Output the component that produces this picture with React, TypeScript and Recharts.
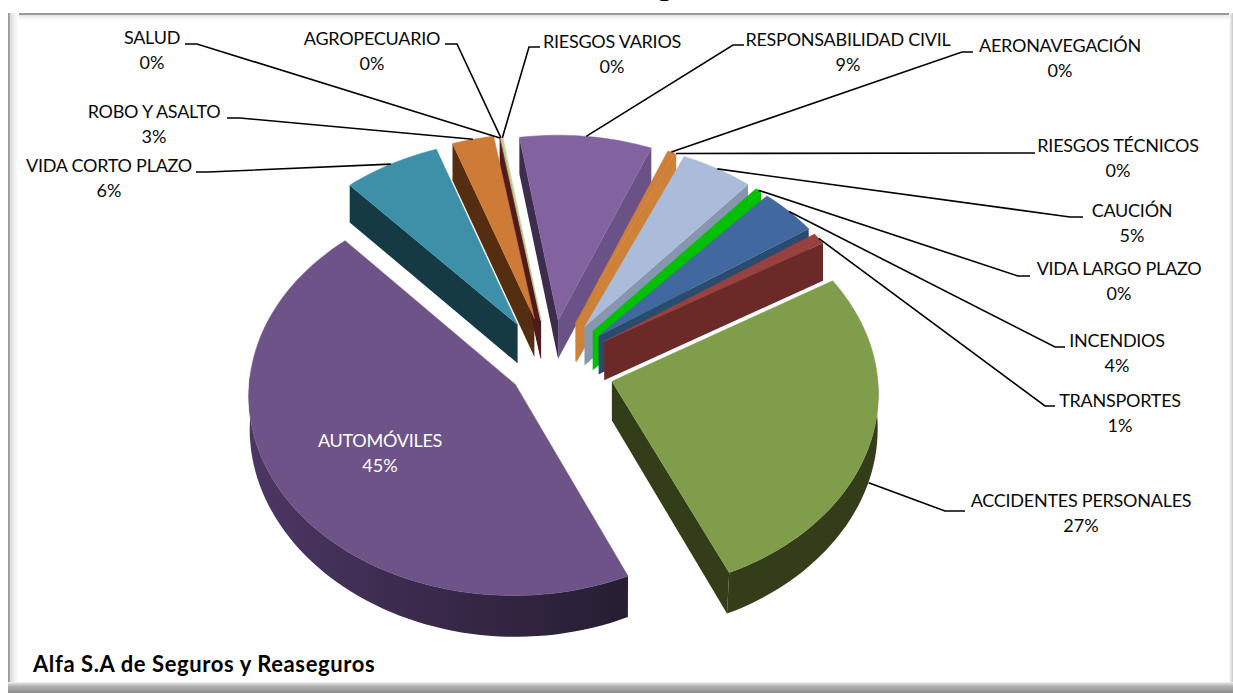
import React from 'react';
import { PieChart, Pie } from 'recharts';

const categories = [
  'ACCIDENTES PERSONALES', 'AUTOMÓVILES', 'VIDA CORTO PLAZO', 'ROBO Y ASALTO', 'SALUD', 'AGROPECUARIO',
  'RIESGOS VARIOS', 'RESPONSABILIDAD CIVIL', 'AERONAVEGACIÓN', 'RIESGOS TÉCNICOS', 'CAUCIÓN',
  'VIDA LARGO PLAZO', 'INCENDIOS', 'TRANSPORTES',
];
const shares = [26.9, 45.1, 6.3, 2.7, 0.05, 0.05, 0.1, 8.55, 0.49, 0.02, 4.7, 0.4, 3.8, 0.9];
const faceColors = ['#7f9d4a', '#6e5389', '#3e90a8', '#ce7b37', '#953735', '#c3d69b', '#c3d69b', '#8263a0', '#ce7f3a', '#ce7f3a', '#abbbda', '#00c000', '#41699f', '#984240'];
const startWallColors = ['#333d19', '#3a2a4a', '#163a44', '#552e11', '#4e1c1c', '#4e1c1c', '#4e1c1c', '#3c2c4e', '#ce8238', '#ce8238', '#8796af', '#00b000', '#2b4a70', '#6b2a28'];
const endWallColors = ['#333d19', '#3a2a4a', '#163a44', '#552e11', '#4e1c1c', '#4e1c1c', '#4e1c1c', '#6a5186', '#ce8238', '#ce8238', '#8796af', '#00c000', '#2b4a70', '#6b2a28'];
const outerWallColors = ['#333d19', 'url(#purpleWall)', '#163a44', '#552e11', '#4e1c1c', '#4e1c1c', '#4e1c1c', '#3c2c4e', '#ce8238', '#ce8238', '#8796af', '#00b000', '#2b4a70', '#6b2a28'];
const explodeByCategory = [0.24, 0.16, 0.25, 0.255, 0.24, 0.24, 0.24, 0.24, 0.24, 0.24, 0.24, 0.24, 0.24, 0.24];

// where each label goes: text centre, first line y, elbow of the leader
const labelLayout = [
  { x: 1081, y: 500, ex: 965, ex2: 945, ey: 511, dy: 40 },
  { x: 380, y: 440 },
  { x: 109, y: 165, ex: 196, ex2: 208, ey: 172, dy: 0 },
  { x: 154, y: 111, ex: 227, ex2: 240, ey: 118, dy: 0 },
  { x: 152, y: 37, ex: 185, ex2: 197, ey: 44, dy: 0 },
  { x: 372, y: 38, ex: 445, ex2: 457, ey: 44, dy: 0 },
  { x: 612, y: 41, ex: 540, ex2: 529, ey: 47, dy: 0 },
  { x: 848, y: 39, ex: 744, ex2: 733, ey: 45, dy: 0 },
  { x: 1060, y: 45, ex: 973, ex2: 962, ey: 52, dy: 0 },
  { x: 1118, y: 145, ex: 1035, ex2: 1020, ey: 153, dy: 0 },
  { x: 1132, y: 210, ex: 1083, ex2: 1070, ey: 217, dy: 0 },
  { x: 1119, y: 268, ex: 1030, ex2: 1018, ey: 276, dy: 0 },
  { x: 1117, y: 340, ex: 1065, ex2: 1055, ey: 347, dy: 0 },
  { x: 1120, y: 400, ex: 1055, ex2: 1045, ey: 406, dy: 0 },
];

const pieData = categories.map((name, i) => ({ name, value: shares[i] }));
const total = shares.reduce((a, b) => a + b, 0);

const TILT = 0.75;
const PERSPECTIVE = 0.05;
const DEPTH = 39;
const CONVERGE_X = 620;
const rad = (d: number) => (d * Math.PI) / 180;

// disc point at clockwise angle theta -> screen, with slice pulled out along its mid angle
function project(p: any, index: number, theta: number, r: number, drop = 0) {
  const mid = 90 - (p.startAngle + p.endAngle) / 2;
  const e = explodeByCategory[index];
  const u = r * Math.sin(rad(theta)) + e * Math.sin(rad(mid));
  const v = -r * Math.cos(rad(theta)) - e * Math.cos(rad(mid));
  const s = 1 / (1 - PERSPECTIVE * v);
  const x = p.cx + p.outerRadius * u * s;
  // the lower rim leans in a little toward the viewer's side
  const lean = drop > 0 ? (x - CONVERGE_X) * 0.02 * Math.max(0, v) : 0;
  return {
    x: x - lean,
    y: p.cy + p.outerRadius * TILT * v * s + drop * s,
  };
}

const toPath = (pts: { x: number; y: number }[]) =>
  'M' + pts.map((q) => `${q.x.toFixed(1)},${q.y.toFixed(1)}`).join('L') + 'Z';

function arcThetas(a0: number, a1: number) {
  const out: number[] = [];
  const n = Math.max(2, Math.ceil((a1 - a0) / 2));
  for (let i = 0; i <= n; i++) out.push(a0 + ((a1 - a0) * i) / n);
  return out;
}

function FaceShape(p: any) {
  const a0 = 90 - p.startAngle;
  const a1 = 90 - p.endAngle;
  const pts = [project(p, p.index, a0, 0), ...arcThetas(a0, a1).map((t) => project(p, p.index, t, 1))];
  return <path d={toPath(pts)} fill={faceColors[p.index]} stroke={faceColors[p.index]} strokeWidth={0.5} />;
}

function WallShape(p: any) {
  const i = p.index;
  const a0 = 90 - p.startAngle;
  const a1 = 90 - p.endAngle;
  const walls = [];
  if (Math.sin(rad(a0)) < 0) {
    const q = [project(p, i, a0, 0), project(p, i, a0, 1), project(p, i, a0, 1, DEPTH), project(p, i, a0, 0, DEPTH)];
    walls.push(<path key="s" d={toPath(q)} fill={startWallColors[i]} />);
  }
  if (Math.sin(rad(a1)) > 0) {
    const q = [project(p, i, a1, 0), project(p, i, a1, 1), project(p, i, a1, 1, DEPTH), project(p, i, a1, 0, DEPTH)];
    walls.push(<path key="e" d={toPath(q)} fill={endWallColors[i]} />);
  }
  const front = arcThetas(a0, a1).filter((t) => Math.cos(rad(t)) < 0.05);
  if (front.length > 1) {
    const top = front.map((t) => project(p, i, t, 1));
    const bottom = front.map((t) => project(p, i, t, 1, DEPTH)).reverse();
    walls.push(<path key="o" d={toPath([...top, ...bottom])} fill={outerWallColors[i]} />);
  }
  return <g>{walls}</g>;
}

const FONT = 'Lato, sans-serif';

function renderLabel(p: any) {
  const i = p.index;
  const l: any = labelLayout[i];
  const pct = `${Math.round((shares[i] / total) * 100)}%`;
  const isInside = l.ex === undefined;
  const mid = 90 - (p.startAngle + p.endAngle) / 2;
  const start = isInside ? null : project(p, i, mid, 1, l.dy);
  const color = isInside ? '#ffffff' : '#0a0a0a';
  return (
    <g key={i}>
      {start && (
        <polyline
          points={`${start.x},${start.y} ${l.ex2},${l.ey} ${l.ex},${l.ey}`}
          fill="none"
          stroke="#000000"
          strokeWidth={1.6}
        />
      )}
      <text x={l.x} y={l.y} textAnchor="middle" dominantBaseline="central" fontFamily={FONT} fontSize={18} letterSpacing={-0.25} fill={color}>
        {categories[i]}
      </text>
      <text x={l.x} y={l.y + 24.5} textAnchor="middle" dominantBaseline="central" fontFamily={FONT} fontSize={18} fill={color}>
        {pct}
      </text>
    </g>
  );
}

export default function App() {
  return (
    <div style={{ position: 'absolute', left: 0, top: 0, width: 1233, height: 693, background: '#fff', overflow: 'hidden' }}>
      {/* title is cut off by the top of the picture in the source, only the descender shows */}
      <div style={{ position: 'absolute', left: 660, top: -32, fontFamily: '"Liberation Serif", serif', fontWeight: 700, fontSize: 30, lineHeight: '34px', color: '#000' }}>p</div>
      {/* bevelled frame */}
      <div style={{ position: 'absolute', left: 8, top: 13, width: 1225, height: 2, background: '#9a9a9a' }} />
      <div style={{ position: 'absolute', left: 8, top: 15, width: 1225, height: 5, background: 'linear-gradient(to bottom,#e4e4e4,#ffffff)' }} />
      <div style={{ position: 'absolute', left: 8, top: 13, width: 11, height: 680, background: 'linear-gradient(to right,#9a9a9a 0,#9a9a9a 12%,#dcdcdc 20%,#f6f6f6 70%,#ffffff 100%)' }} />
      <div style={{ position: 'absolute', left: 1229, top: 13, width: 4, height: 680, background: 'linear-gradient(to right,#ffffff,#c8c8c8)' }} />
      <div style={{ position: 'absolute', left: 8, top: 682, width: 1225, height: 11, background: 'linear-gradient(to bottom,#f2f2f2,#b5b5b5 35%,#8a8a8a 100%)' }} />
      <div style={{ position: 'absolute', left: 33, top: 651, fontFamily: FONT, fontWeight: 700, fontSize: 22, letterSpacing: 0.6, lineHeight: '26px', color: '#000' }}>
        Alfa S.A de Seguros y Reaseguros
      </div>
      <div style={{ position: 'absolute', left: 0, top: 0 }}>
        <PieChart width={1233} height={693} margin={{ top: 0, right: 0, bottom: 0, left: 0 }}>
          <defs>
            <linearGradient id="purpleWall" gradientUnits="userSpaceOnUse" x1="250" y1="0" x2="620" y2="0">
              <stop offset="0" stopColor="#4c3763" />
              <stop offset="0.45" stopColor="#3b2a4c" />
              <stop offset="1" stopColor="#271e33" />
            </linearGradient>
          </defs>
          <Pie
            data={pieData}
            dataKey="value"
            cx={551}
            cy={367}
            outerRadius={265}
            startAngle={31}
            endAngle={-329}
            stroke="none"
            shape={WallShape}
            isAnimationActive={false}
          />
          <Pie
            data={pieData}
            dataKey="value"
            cx={551}
            cy={367}
            outerRadius={265}
            startAngle={31}
            endAngle={-329}
            stroke="none"
            shape={FaceShape}
            label={renderLabel}
            labelLine={false}
            isAnimationActive={false}
          />
        </PieChart>
      </div>
    </div>
  );
}
